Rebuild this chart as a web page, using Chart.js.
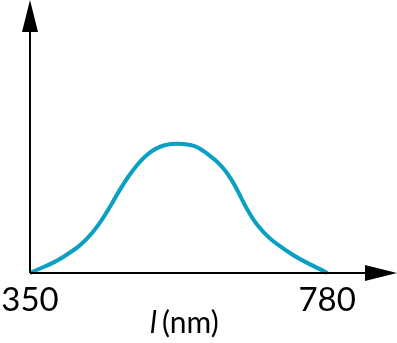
<!DOCTYPE html>
<html>
<head>
<meta charset="utf-8">
<script src="https://cdn.jsdelivr.net/npm/chart.js@4"></script>
<style>
  html, body { margin: 0; padding: 0; background: #fff; }
  #wrap { width: 397px; height: 343px; }
</style>
</head>
<body>
<div id="wrap"><canvas id="chart1"></canvas></div>
<script>
// wavelength (nm) and relative intensity
const wavelengths = [350, 398, 441, 492, 519, 546, 582, 603, 635, 679, 724, 780];
const intensity = [0, 16, 41, 96, 118, 128, 128, 121, 100, 48, 21, 0];
const tickValues = [350, 780];
const axisTitle = ['l', '(nm)'];

const curveColor = '#0a9fc3';
const font = 'Lato';

// axes with arrow heads + axis title
const axesPlugin = {
  id: 'axes',
  afterDraw(chart) {
    const ctx = chart.ctx;
    const x = chart.scales.x, y = chart.scales.y;
    const x0 = x.getPixelForValue(350);
    const y0 = y.getPixelForValue(0);
    const right = chart.chartArea.right;
    const top = chart.chartArea.top;
    ctx.save();
    ctx.strokeStyle = '#000';
    ctx.fillStyle = '#000';
    ctx.lineWidth = 2;
    ctx.beginPath();
    ctx.moveTo(x0, y0);
    ctx.lineTo(right - 30, y0);
    ctx.moveTo(x0, y0);
    ctx.lineTo(x0, top + 30);
    ctx.stroke();
    // arrow heads
    ctx.beginPath();
    ctx.moveTo(right, y0);
    ctx.lineTo(right - 32, y0 - 8);
    ctx.lineTo(right - 32, y0 + 8);
    ctx.closePath();
    ctx.fill();
    ctx.beginPath();
    ctx.moveTo(x0, top);
    ctx.lineTo(x0 - 8, top + 32);
    ctx.lineTo(x0 + 8, top + 32);
    ctx.closePath();
    ctx.fill();
    // title
    ctx.textBaseline = 'alphabetic';
    ctx.textAlign = 'left';
    ctx.font = 'italic 30px ' + font;
    ctx.fillText(axisTitle[0], 150, 333);
    ctx.font = '30px ' + font;
    ctx.fillText(axisTitle[1], 162, 333);
    ctx.restore();
  }
};

var ctx = document.getElementById('chart1').getContext('2d');
new Chart(ctx, {
  type: 'line',
  data: {
    datasets: [{
      data: wavelengths.map((w, i) => ({ x: w, y: intensity[i] })),
      borderColor: curveColor,
      borderWidth: 4,
      pointRadius: 0,
      tension: 0.4,
      fill: false,
      clip: false,
    }],
  },
  options: {
    responsive: true,
    maintainAspectRatio: false,
    animation: false,
    events: [],
    layout: { padding: { left: 30, right: 0, top: 0, bottom: 0 } },
    plugins: { legend: { display: false }, tooltip: { enabled: false } },
    scales: {
      x: {
        type: 'linear',
        min: 350,
        max: 881,
        grid: { display: false, drawTicks: false },
        border: { display: false },
        afterBuildTicks: (axis) => { axis.ticks = tickValues.map(v => ({ value: v })); },
        afterFit: (axis) => { axis.height = 70; axis.paddingLeft = 0; axis.paddingRight = 0; },
        ticks: {
          padding: 8,
          maxRotation: 0,
          autoSkip: false,
          color: '#000',
          font: { family: font, size: 33 },
        },
      },
      y: {
        display: false,
        min: 0,
        max: 273,
      },
    },
  },
  plugins: [axesPlugin],
});
</script>
</body>
</html>
